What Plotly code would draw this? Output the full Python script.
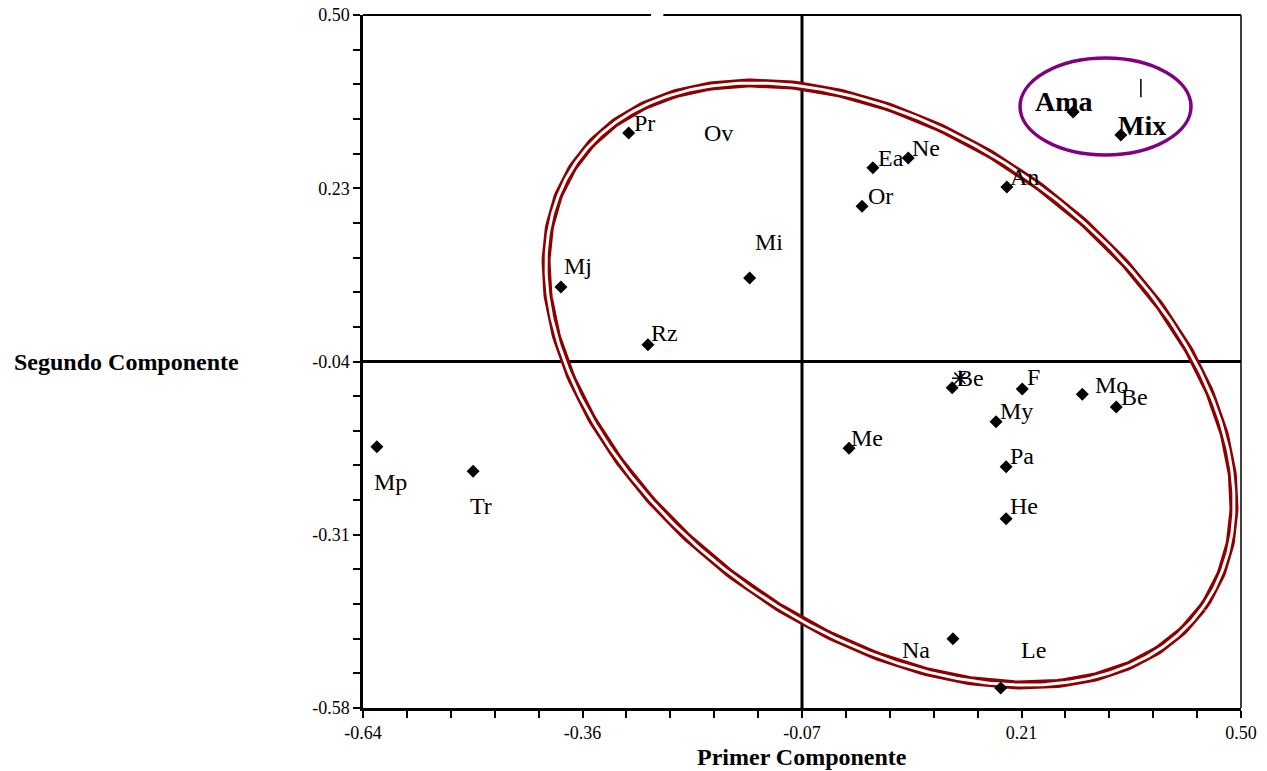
import numpy as np
import plotly.graph_objects as go

# ---------------- data ----------------
names = ["Pr", "Ea", "Ne", "An", "Or", "Ama", "Mix", "Mi", "Mj", "Rz", "Mp", "Tr",
         "Me", "Be", "F", "Mo", "Be", "My", "Pa", "He", "Na", "Le"]
pc1 = [-0.295, 0.022, 0.068, 0.196, 0.008, 0.282, 0.344, -0.138, -0.383, -0.270, -0.622, -0.497,
       -0.009, 0.125, 0.216, 0.294, 0.338, 0.182, 0.195, 0.195, 0.126, 0.188]
pc2 = [0.316, 0.262, 0.277, 0.232, 0.202, 0.349, 0.313, 0.090, 0.076, -0.014, -0.173, -0.211,
       -0.175, -0.081, -0.083, -0.091, -0.111, -0.134, -0.204, -0.285, -0.472, -0.549]
bold_names = ["Ama", "Mix"]

# label-only entry (no marker)
label_only_names = ["Ov"]
label_only_x = [-0.179]
label_only_y = [0.316]

# asterisk point and small tick mark
star_x, star_y = [0.135], [-0.066]
bar_x, bar_y = [0.370], [0.386]

x_ticks = [-0.64, -0.355, -0.07, 0.215, 0.50]
x_ticktext = ["-0.64", "-0.36", "-0.07", "0.21", "0.50"]
y_ticks = [-0.58, -0.31, -0.04, 0.23, 0.50]
y_ticktext = ["-0.58", "-0.31", "-0.04", "0.23", "0.50"]

ref_x, ref_y = -0.07, -0.04

# ---------------- layout constants ----------------
W, H = 1267, 771
ML, MR, MT, MB = 363, 26, 15, 63
XR = [-0.64, 0.50]
YR = [-0.58, 0.50]
PW, PH = W - ML - MR, H - MT - MB
SX = (XR[1] - XR[0]) / PW
SY = (YR[1] - YR[0]) / PH
FONT = "Liberation Serif, Times New Roman, serif"

# label offsets in pixels (dx right, dy up) of label centre from marker
default_off = (18, 10)
offsets = {0: (16, 10), 5: (-9, 10), 6: (21, 9), 7: (19, 36), 8: (17, 21), 9: (17, 12),
           10: (14, -35), 11: (8, -35), 14: (11, 12), 15: (29, 9), 17: (20, 11),
           18: (16, 11), 19: (18, 13), 20: (-37, -11), 21: (33, 38)}

fig = go.Figure()

# red double ellipse (screen-space ellipse converted to data units)
ecx, ecy = 0.0443, -0.0751
ea, eb, eth = 384.3, 247.5, np.deg2rad(35.65)
t = np.linspace(0, 2 * np.pi, 500)
dxp = ea * np.cos(t) * np.cos(eth) - eb * np.sin(t) * np.sin(eth)
dyp = ea * np.cos(t) * np.sin(eth) + eb * np.sin(t) * np.cos(eth)
ex = ecx + dxp * SX
ey = ecy - dyp * SY
fig.add_trace(go.Scatter(x=ex, y=ey, mode="lines", line=dict(color="#8B0000", width=9),
                         hoverinfo="skip", showlegend=False))
fig.add_trace(go.Scatter(x=ex, y=ey, mode="lines", line=dict(color="white", width=3),
                         hoverinfo="skip", showlegend=False))

# points
fig.add_trace(go.Scatter(x=pc1, y=pc2, mode="markers",
                         marker=dict(symbol="diamond", size=10, color="black"),
                         showlegend=False))
fig.add_trace(go.Scatter(x=star_x, y=star_y, mode="markers",
                         marker=dict(symbol="asterisk-open", size=13, color="black",
                                     line=dict(color="black", width=1.5)),
                         showlegend=False))
fig.add_trace(go.Scatter(x=bar_x, y=bar_y, mode="markers",
                         marker=dict(symbol="line-ns-open", size=13, color="black",
                                     line=dict(color="black", width=1.5)),
                         showlegend=False))

annotations = []
for i, (n, x, y) in enumerate(zip(names, pc1, pc2)):
    dx, dy = offsets.get(i, default_off)
    bold = n in bold_names
    annotations.append(dict(
        x=x, y=y, xref="x", yref="y", text=f"<b>{n}</b>" if bold else n, showarrow=False,
        xanchor="center", yanchor="middle", xshift=dx, yshift=dy,
        font=dict(family=FONT, size=28 if bold else 24, color="black")))
for n, x, y in zip(label_only_names, label_only_x, label_only_y):
    annotations.append(dict(x=x, y=y, xref="x", yref="y", text=n, showarrow=False,
                            xanchor="center", yanchor="middle",
                            font=dict(family=FONT, size=24, color="black")))

annotations.append(dict(x=0.5, y=0, xref="paper", yref="paper", yshift=-49,
                        text="<b>Primer Componente</b>", showarrow=False,
                        xanchor="center", yanchor="middle",
                        font=dict(family=FONT, size=24, color="black")))
annotations.append(dict(x=(12 - ML) / PW, y=ref_y, xref="paper", yref="y",
                        text="<b>Segundo Componente</b>",
                        showarrow=False, xanchor="left", yanchor="middle",
                        font=dict(family=FONT, size=24, color="black")))

shapes = [
    # reference lines
    dict(type="line", xref="x", yref="y", x0=ref_x, x1=ref_x, y0=YR[0], y1=YR[1],
         line=dict(color="black", width=3), layer="below"),
    dict(type="line", xref="x", yref="y", x0=XR[0], x1=XR[1], y0=ref_y, y1=ref_y,
         line=dict(color="black", width=3), layer="below"),
    # top border (with small gap) and right border
    dict(type="line", xref="x", yref="paper", x0=XR[0], x1=-0.266, y0=1, y1=1,
         line=dict(color="black", width=2)),
    dict(type="line", xref="x", yref="paper", x0=-0.250, x1=XR[1], y0=1, y1=1,
         line=dict(color="black", width=2)),
    dict(type="line", xref="paper", yref="paper", x0=1, x1=1, y0=0, y1=1,
         line=dict(color="black", width=1.5)),
    # purple ellipse
    dict(type="circle", xref="x", yref="y", x0=0.3241 - 0.1110, x1=0.3241 + 0.1110,
         y0=0.3574 - 0.0756, y1=0.3574 + 0.0756, line=dict(color="#800080", width=3.5)),
]

minor_x = [XR[0] + k * (XR[1] - XR[0]) / 20 for k in range(21)]
minor_y = [YR[0] + k * (YR[1] - YR[0]) / 20 for k in range(21)]

fig.update_layout(
    width=W, height=H, margin=dict(l=ML, r=MR, t=MT, b=MB, autoexpand=False),
    paper_bgcolor="white", plot_bgcolor="white",
    annotations=annotations, shapes=shapes,
    xaxis=dict(range=XR, tickvals=x_ticks, ticktext=x_ticktext, ticks="outside",
               ticklen=7, tickwidth=2, tickcolor="black", showline=True, linewidth=2.5,
               linecolor="black", showgrid=False, zeroline=False, automargin=False,
               tickfont=dict(family=FONT, size=18, color="black"),
               minor=dict(tickvals=minor_x, ticks="outside", ticklen=7, tickwidth=2,
                          tickcolor="black", showgrid=False)),
    yaxis=dict(range=YR, tickvals=y_ticks, ticktext=y_ticktext, ticks="outside",
               ticklen=7, tickwidth=2, tickcolor="black", showline=True, linewidth=2.5,
               linecolor="black", showgrid=False, zeroline=False, automargin=False,
               tickfont=dict(family=FONT, size=18, color="black"),
               minor=dict(tickvals=minor_y, ticks="outside", ticklen=7, tickwidth=2,
                          tickcolor="black", showgrid=False)),
)

fig.write_html("out.html", config={"displayModeBar": False},
               post_script="document.body.style.margin='0';document.body.style.padding='0';"
                           "document.documentElement.style.overflow='hidden';")
